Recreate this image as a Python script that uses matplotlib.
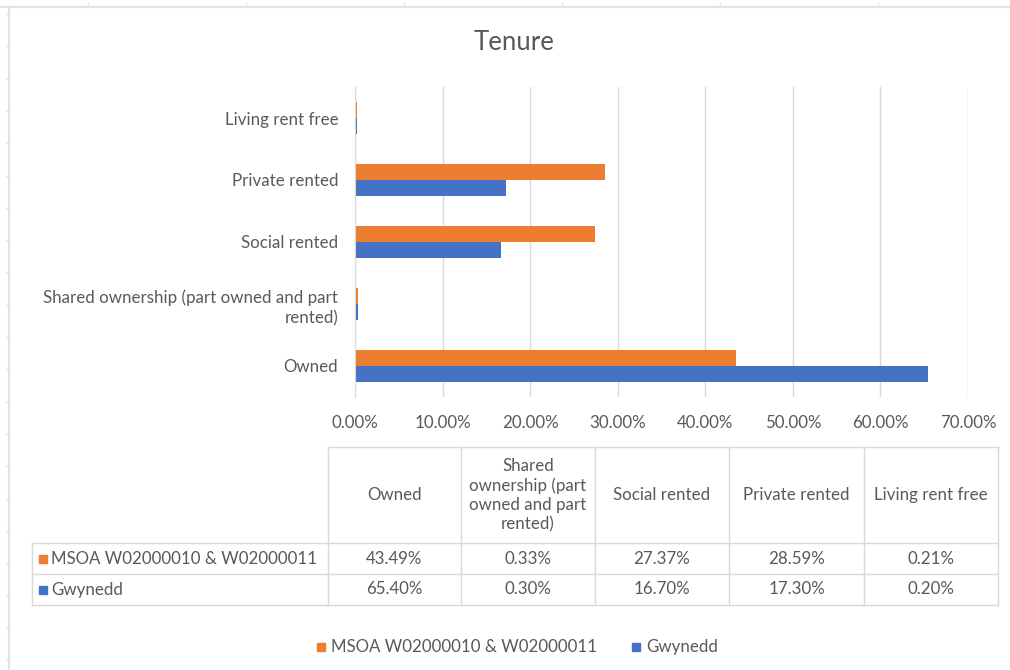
import matplotlib.pyplot as plt
from matplotlib.lines import Line2D
from matplotlib.patches import Rectangle

plt.rcParams['font.family'] = ['Lato', 'DejaVu Sans']

categories = ["Owned", "Shared ownership (part owned and part rented)",
              "Social rented", "Private rented", "Living rent free"]
axis_labels = ["Owned", "Shared ownership (part owned and part\nrented)",
               "Social rented", "Private rented", "Living rent free"]
table_headers = ["Owned", "Shared\nownership (part\nowned and part\nrented)",
                 "Social rented", "Private rented", "Living rent free"]
msoa = [43.49, 0.33, 27.37, 28.59, 0.21]
gwynedd = [65.40, 0.30, 16.70, 17.30, 0.20]
series_names = ["MSOA W02000010 & W02000011", "Gwynedd"]
xticks = [0, 10, 20, 30, 40, 50, 60, 70]

ORANGE = "#ED7D31"
BLUE = "#4472C4"
TEXT = "#595959"
GRID = "#D9D9D9"
FS = 12.2

W, H = 1010, 670
fig = plt.figure(figsize=(W / 100, H / 100), dpi=100)


def fx(px):
    return px / W


def fy(py):
    return 1 - py / H


def hline(x0, x1, y, color=GRID, lw=1.0):
    fig.add_artist(Line2D([fx(x0), fx(x1)], [fy(y), fy(y)], color=color, lw=lw))


def vline(x, y0, y1, color=GRID, lw=1.0):
    fig.add_artist(Line2D([fx(x), fx(x)], [fy(y0), fy(y1)], color=color, lw=lw))


# sheet edges around the chart object
hline(0, W, 7, color="#E3E3E3", lw=1.5)
vline(9, 7, H, color="#E3E3E3", lw=1.5)
for tx in [88, 246, 404, 562, 720, 878]:
    vline(tx, 3, 7, color="#E3E3E3")
for k in range(21):
    ty = 14 + k * 32.3
    hline(6, 9, ty, color="#E3E3E3")

# bar chart
ax = fig.add_axes([fx(355), fy(397), fx(968) - fx(355), fy(87) - fy(397)])
pos = list(range(len(categories)))
bh = 0.26
ax.barh([p + bh / 2 for p in pos], msoa, height=bh, color=ORANGE, zorder=3)
ax.barh([p - bh / 2 for p in pos], gwynedd, height=bh, color=BLUE, zorder=3)
ax.set_xlim(0, 70)
ax.set_ylim(-0.5, len(categories) - 0.5)
ax.set_xticks(xticks)
ax.set_xticklabels([f"{t:.2f}%" for t in xticks])
ax.set_yticks(pos)
ax.set_yticklabels(axis_labels, multialignment='right', linespacing=1.35)
ax.tick_params(length=0, colors=TEXT, labelsize=FS)
ax.tick_params(axis='x', pad=13)
ax.tick_params(axis='y', pad=12)
ax.grid(axis='x', color=GRID, lw=1.0, zorder=0)
for s in ["top", "right", "bottom"]:
    ax.spines[s].set_visible(False)
ax.spines["left"].set_color(GRID)
ax.spines["left"].set_zorder(4)

fig.text(fx(514), fy(43), "Tenure", ha='center', va='center', fontsize=18.5, color=TEXT)

# data table
cols = [328, 461, 595, 729, 864, 998]
hline(328, 998, 447)
for y in [543, 574, 605]:
    hline(32, 998, y)
for x in cols:
    vline(x, 447, 605)
vline(32, 543, 605)
for i, head in enumerate(table_headers):
    cx = (cols[i] + cols[i + 1]) / 2
    fig.text(fx(cx), fy(495), head, ha='center', va='center', fontsize=FS,
             color=TEXT, linespacing=1.25)
for r, (vals, color, name) in enumerate([(msoa, ORANGE, series_names[0]),
                                         (gwynedd, BLUE, series_names[1])]):
    cy = 558.5 + r * 31
    fig.add_artist(Rectangle((fx(39), fy(cy + 4)), fx(8), 8 / H, color=color))
    fig.text(fx(51), fy(cy), name, ha='left', va='center', fontsize=FS, color=TEXT)
    for i, v in enumerate(vals):
        cx = (cols[i] + cols[i + 1]) / 2
        fig.text(fx(cx), fy(cy), f"{v:.2f}%", ha='center', va='center',
                 fontsize=FS, color=TEXT)

# legend
for lx, color, name in [(317, ORANGE, series_names[0]), (632, BLUE, series_names[1])]:
    fig.add_artist(Rectangle((fx(lx), fy(651)), fx(8), 8 / H, color=color))
    fig.text(fx(lx + 14), fy(647), name, ha='left', va='center', fontsize=FS, color=TEXT)

fig.savefig("out.png", dpi=100)
